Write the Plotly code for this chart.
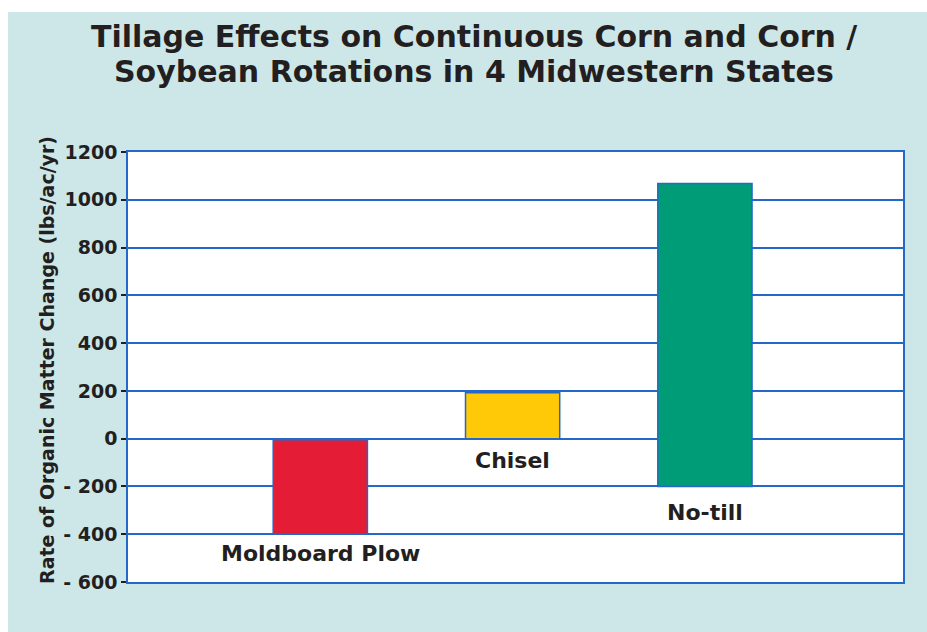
import plotly.graph_objects as go

categories = ["Moldboard Plow", "Chisel", "No-till"]
bar_base = [-400, 0, -200]
bar_top = [-5, 192, 1068]
colors = ["#e41c35", "#ffc907", "#009b77"]
tick_vals = [1200, 1000, 800, 600, 400, 200, 0, -200, -400, -600]
tick_text = ["1200", "1000", "800", "600", "400", "200", "0", "- 200", "- 400", "- 600"]
title_lines = ["Tillage Effects on Continuous Corn and Corn /",
               "Soybean Rotations in 4 Midwestern States"]
y_title = "Rate of Organic Matter Change (lbs/ac/yr)"

# page body margin is removed below, so figure coordinates equal page coordinates
W, H = 927, 632
L, R, T, B = 128, 24, 152, 50
pw, ph = W - L - R, H - T - B

def px(x):
    return (x - L) / pw

def py(y):
    return (H - B - y) / ph

heights = [t - b for t, b in zip(bar_top, bar_base)]
label_shift = [-5, -7, -12]
title_y = [37, 72]
dark = "#231f20"
blue = "#2468c8"
font = "DejaVu Sans"

fig = go.Figure()
fig.add_trace(go.Bar(
    x=categories, y=heights, base=bar_base,
    marker=dict(color=colors, line=dict(color=blue, width=1.5)),
    width=0.49, showlegend=False, hoverinfo="skip",
))

for c, b, s in zip(categories, bar_base, label_shift):
    fig.add_annotation(x=c, y=b, text="<b>%s</b>" % c, showarrow=False,
                       yanchor="top", yshift=s,
                       font=dict(family=font, size=22, color=dark))

for t, yy in zip(title_lines, title_y):
    fig.add_annotation(xref="paper", yref="paper", x=px(474), y=py(yy),
                       text="<b>%s</b>" % t, showarrow=False,
                       xanchor="center", yanchor="middle",
                       font=dict(family=font, size=30, color=dark))

fig.add_annotation(xref="paper", yref="paper", x=px(47), y=py(360),
                   text="<b>%s</b>" % y_title, showarrow=False, textangle=-90,
                   xanchor="center", yanchor="middle",
                   font=dict(family=font, size=19, color=dark))

fig.update_layout(
    width=W, height=H,
    margin=dict(l=L, r=R, t=T, b=B, autoexpand=False),
    paper_bgcolor="#cde7e9",
    plot_bgcolor="white",
    xaxis=dict(range=[-1, 3.03], showticklabels=False, showgrid=False,
               showline=True, linecolor=blue, linewidth=1.5, mirror=True,
               zeroline=False, fixedrange=True),
    yaxis=dict(range=[-600, 1200], tickvals=tick_vals, ticktext=tick_text,
               showgrid=True, gridcolor=blue, gridwidth=1.5,
               showline=True, linecolor=blue, linewidth=1.5, mirror=True,
               zeroline=False, ticks="outside", ticklen=5, tickwidth=2,
               tickcolor=dark, fixedrange=True,
               tickfont=dict(family=font, size=19, color=dark, weight="bold")),
    shapes=[
        dict(type="rect", xref="paper", yref="paper", layer="below",
             x0=-0.5, x1=1.5, y0=py(12), y1=py(-20),
             fillcolor="white", line=dict(width=0)),
        dict(type="rect", xref="paper", yref="paper", layer="below",
             x0=px(-20), x1=px(8), y0=py(H + 20), y1=py(-20),
             fillcolor="white", line=dict(width=0)),
    ],
)

fig.write_html("out.html",
               config={"displayModeBar": False},
               post_script="document.body.style.margin='0';"
                           "document.body.style.overflow='hidden';")
